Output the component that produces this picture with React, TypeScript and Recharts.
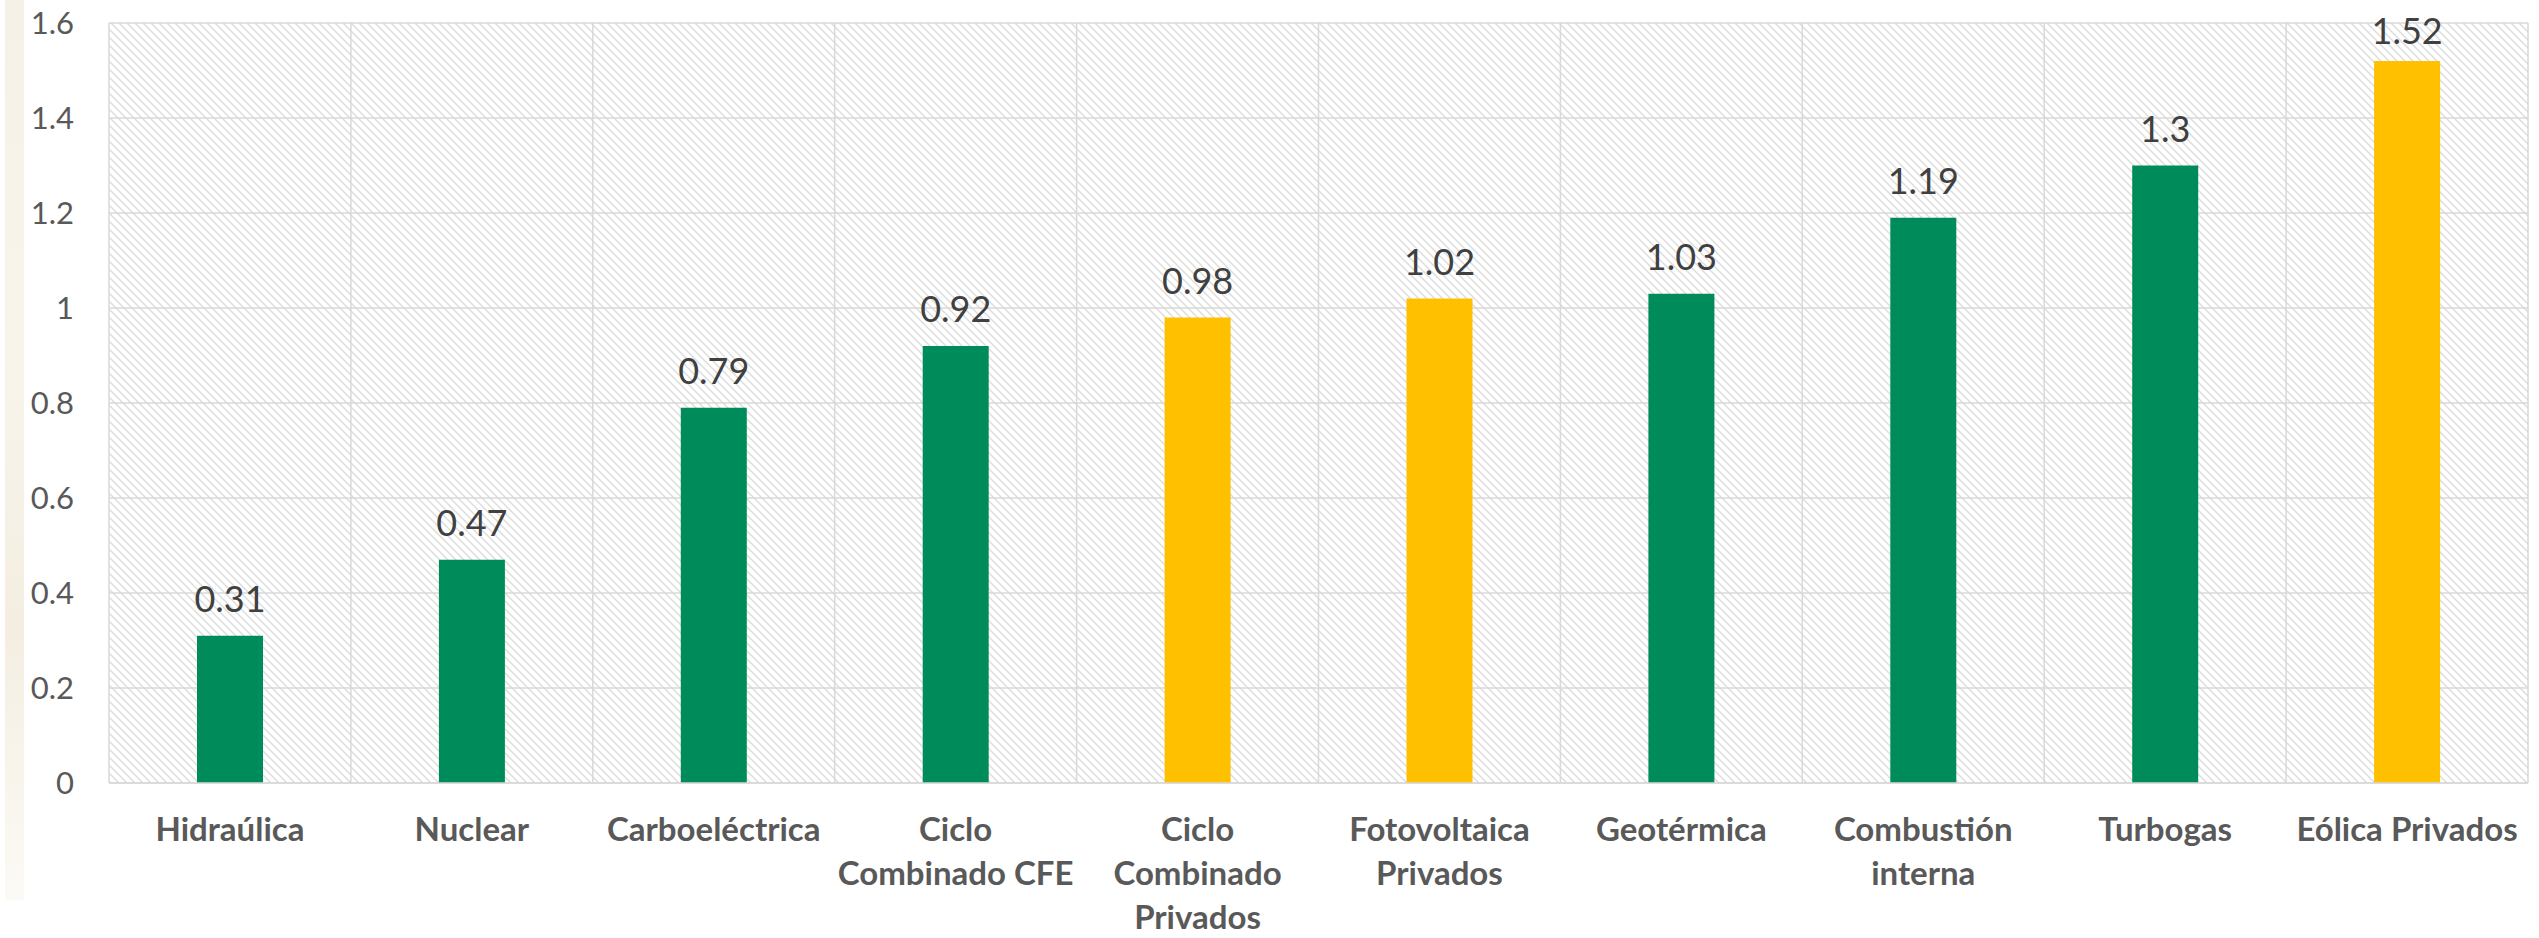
import React from 'react';
import { BarChart, Bar, XAxis, YAxis, CartesianGrid, Cell, LabelList } from 'recharts';

const categories = [
  'Hidraúlica',
  'Nuclear',
  'Carboeléctrica',
  'Ciclo\nCombinado CFE',
  'Ciclo\nCombinado\nPrivados',
  'Fotovoltaica\nPrivados',
  'Geotérmica',
  'Combustión\ninterna',
  'Turbogas',
  'Eólica Privados',
];
const values = [0.31, 0.47, 0.79, 0.92, 0.98, 1.02, 1.03, 1.19, 1.3, 1.52];
const owners = ['CFE', 'CFE', 'CFE', 'CFE', 'Privados', 'Privados', 'CFE', 'CFE', 'CFE', 'Privados'];
const yTicks = [0, 0.2, 0.4, 0.6, 0.8, 1, 1.2, 1.4, 1.6];

const COLORS: Record<string, string> = { CFE: '#008C5A', Privados: '#FFC000' };

const data = categories.map((name, i) => ({ name, value: values[i], owner: owners[i] }));

const FONT = 'Lato, "Open Sans", sans-serif';

const CatTick = (props: any) => {
  const { x, y, payload } = props;
  const lines = String(payload.value).split('\n');
  return (
    <text x={x} y={y} textAnchor="middle" fill="#595959" fontFamily={FONT} fontWeight={700} fontSize={33}>
      {lines.map((l: string, i: number) => (
        <tspan key={i} x={x} dy={i === 0 ? 58 : 44}>
          {l}
        </tspan>
      ))}
    </text>
  );
};

const ValueLabel = (props: any) => {
  const { x, y, width, value } = props;
  return (
    <text
      x={x + width / 2}
      y={Math.max(y - 24, 44)}
      textAnchor="middle"
      fill="#404040"
      fontFamily={FONT}
      fontSize={36}
    >
      {value}
    </text>
  );
};

export default function App() {
  return (
    <div>
      <div
        style={{
          position: 'absolute',
          left: 5,
          top: 0,
          width: 19,
          height: 900,
          background: 'linear-gradient(180deg, #f6f1e6 0%, #f8f4ea 40%, #f4eee2 70%, #fcfaf5 100%)',
        }}
      />
      <svg width={0} height={0} style={{ position: 'absolute' }}>
        <defs>
          <pattern id="hatch" patternUnits="userSpaceOnUse" width={8} height={8}>
            <rect width={8} height={8} fill="#ffffff" />
            <path d="M0,0 L8,8 M-4,4 L4,12 M4,-4 L12,4" stroke="#DCDCDC" strokeWidth={1.4} />
          </pattern>
        </defs>
      </svg>
      <div style={{ position: 'relative', marginTop: -8, marginLeft: -8 }}>
        <BarChart
          width={2539}
          height={938}
          data={data}
          margin={{ top: 23, right: 11, left: 0, bottom: 5 }}
        >
          <CartesianGrid
            stroke="#D9D9D9"
            strokeWidth={1.5}
            fill="url(#hatch)"
            fillOpacity={1}
            verticalCoordinatesGenerator={({ offset }: any) =>
              categories
                .map((_, i) => offset.left + (i * offset.width) / categories.length)
                .concat([offset.left + offset.width])
            }
          />
          <XAxis
            dataKey="name"
            height={150}
            interval={0}
            tickLine={false}
            tickSize={0}
            tickMargin={0}
            axisLine={{ stroke: '#D9D9D9', strokeWidth: 1.5 }}
            tick={<CatTick />}
          />
          <YAxis
            width={109}
            domain={[0, 1.6]}
            ticks={yTicks}
            interval={0}
            axisLine={false}
            tickLine={false}
            tickSize={0}
            tickMargin={35}
            tick={{ fill: '#595959', fontSize: 31, fontFamily: FONT }}
          />
          <Bar dataKey="value" barSize={66} isAnimationActive={false}>
            {data.map((d, i) => (
              <Cell key={i} fill={COLORS[d.owner]} />
            ))}
            <LabelList dataKey="value" content={<ValueLabel />} />
          </Bar>
        </BarChart>
      </div>
    </div>
  );
}
